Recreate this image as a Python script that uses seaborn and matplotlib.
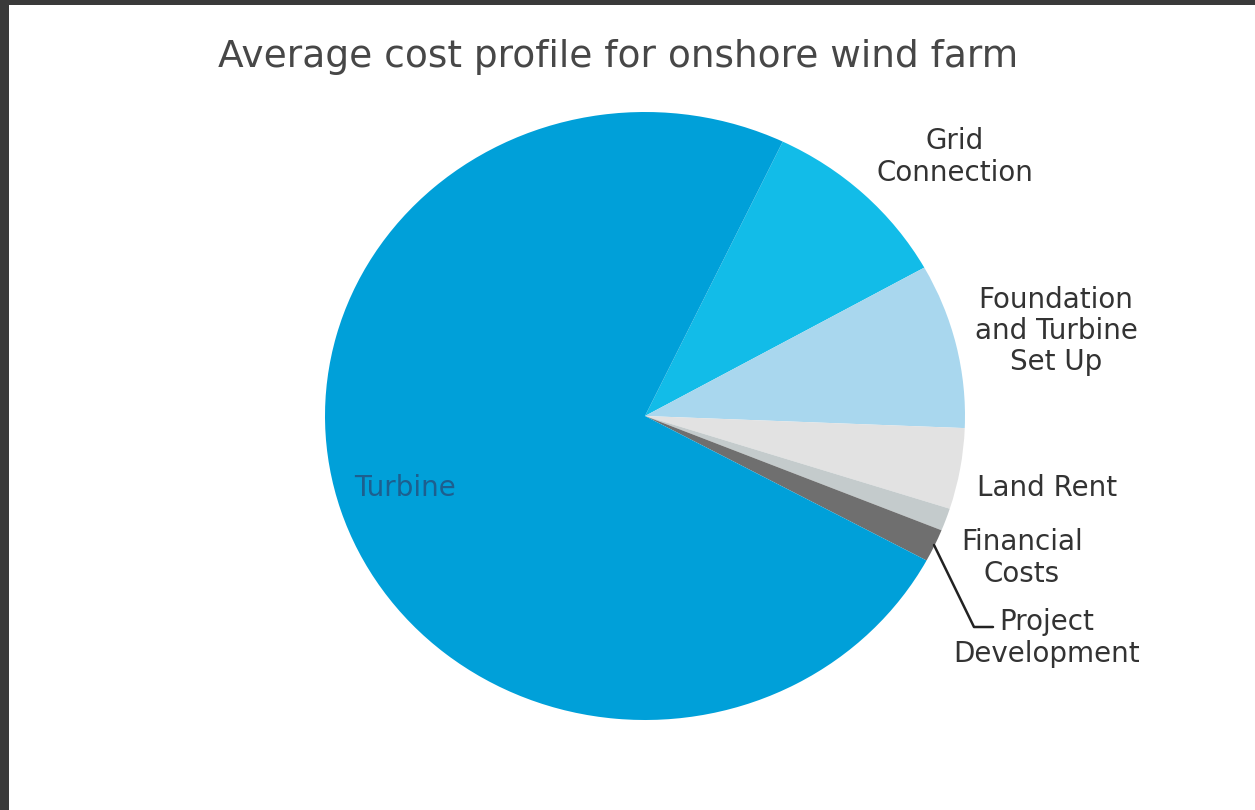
import matplotlib
matplotlib.use("Agg")
import matplotlib.pyplot as plt
import seaborn as sns
from matplotlib.patches import Rectangle

sns.set_theme(style="white")
plt.rcParams["font.family"] = ["DejaVu Sans"]

categories = ["Grid\nConnection", "Foundation\nand Turbine\nSet Up", "Land Rent",
              "Financial\nCosts", "Project\nDevelopment", "Turbine"]
values = [9.8, 8.75, 4.3, 1.2, 1.75, 74.2]
colors = ["#12bce8", "#a9d7ee", "#e2e2e2", "#c4cbcc", "#6f6f6f", "#00a0d9"]
title = "Average cost profile for onshore wind farm"

W, H = 1255, 810
fig = plt.figure(figsize=(W / 100, H / 100), dpi=100, facecolor="#3a3a3a")
fig.patches.append(Rectangle((9 / W, 0), 1, 1 - 5 / H, transform=fig.transFigure,
                             facecolor="white", edgecolor="none", zorder=-10))

# pie axes positioned in pixels (ellipse 640 x 608)
l, r, t, b = 325, 965, 112, 720
ax = fig.add_axes([l / W, 1 - b / H, (r - l) / W, (b - t) / H])
ax.set_zorder(1)
ax.patch.set_alpha(0)
ax.pie(values, colors=colors, startangle=64.5, counterclock=False,
       wedgeprops=dict(linewidth=0))
ax.set_aspect("auto")
ax.set_xlim(-1, 1)
ax.set_ylim(-1, 1)
ax.axis("off")

def px(x, y):
    return x / W, 1 - y / H

fig.text(*px(618, 57), title, ha="center", va="center", fontsize=27, color="#474747",
         zorder=2)

lab_col = "#333333"
kw = dict(ha="center", va="center", fontsize=20, color=lab_col, linespacing=1.15, zorder=2)
fig.text(*px(955, 157), categories[0], **kw)
fig.text(*px(1056, 331), categories[1], **kw)
fig.text(*px(1047, 488), categories[2], **kw)
fig.text(*px(1022, 558), categories[3], **kw)
fig.text(*px(1047, 638), categories[4], **kw)
fig.text(*px(405, 488), categories[5], ha="center", va="center", fontsize=20,
         color="#1d5f8f", zorder=2)

# leader line for Project Development
xs = [934 / W, 974 / W, 993 / W]
ys = [1 - 545 / H, 1 - 627 / H, 1 - 627 / H]
fig.add_artist(plt.Line2D(xs, ys, transform=fig.transFigure, color="#222222", lw=1.8,
                          zorder=3))

fig.savefig("out.png", dpi=100, facecolor=fig.get_facecolor())
